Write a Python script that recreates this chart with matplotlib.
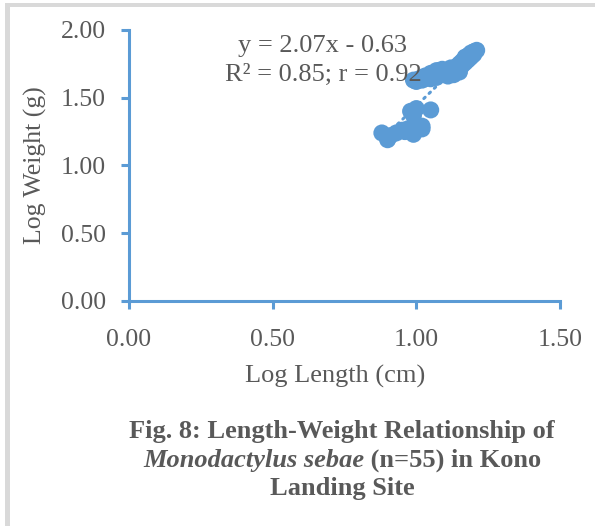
import matplotlib
matplotlib.use("Agg")
import matplotlib.pyplot as plt
from matplotlib.patches import Rectangle
import numpy as np

# data (log length cm, log weight g), n=55
log_length = [0.88, 0.90, 0.91, 0.93, 0.95, 0.96, 0.97, 0.99, 1.00, 1.02,
              1.02, 0.99, 1.00, 0.98, 1.05,
              0.99, 1.00, 1.01, 1.02, 1.03, 1.04, 1.05, 1.06, 1.07, 1.08,
              1.08, 1.09, 1.09, 1.10, 1.10, 1.11, 1.11, 1.12, 1.12, 1.13,
              1.13, 1.14, 1.14, 1.15, 1.15, 1.16, 1.16, 1.17, 1.17, 1.18,
              1.18, 1.19, 1.19, 1.20, 1.20, 1.21, 1.05, 1.07, 1.03, 1.15]
log_weight = [1.24, 1.19, 1.22, 1.24, 1.26, 1.25, 1.27, 1.23, 1.26, 1.29,
              1.27, 1.37, 1.42, 1.40, 1.41,
              1.63, 1.62, 1.64, 1.63, 1.64, 1.65, 1.64, 1.66, 1.65, 1.67,
              1.70, 1.68, 1.71, 1.67, 1.69, 1.70, 1.66, 1.68, 1.72, 1.70,
              1.67, 1.71, 1.73, 1.72, 1.69, 1.74, 1.77, 1.76, 1.80, 1.78,
              1.81, 1.80, 1.83, 1.82, 1.84, 1.85, 1.68, 1.70, 1.66, 1.75]

slope, intercept = 2.07, -0.63
eq_lines = ["y = 2.07x - 0.63", "R² = 0.85; r = 0.92"]
x_ticks = [0.0, 0.5, 1.0, 1.5]
y_ticks = [0.0, 0.5, 1.0, 1.5, 2.0]

blue = "#5B9BD5"
grey = "#595959"
plt.rcParams["font.family"] = ["Liberation Serif", "DejaVu Serif"]

fig = plt.figure(figsize=(5.95, 5.26), dpi=100)
ax = fig.add_axes([0.2168, 0.4278, 0.7244, 0.5152])

ax.scatter(log_length, log_weight, s=150, color=blue, edgecolors="none", zorder=3)

# dotted linear trendline over the data range
xt = np.array([min(log_length), max(log_length)])
ax.plot(xt, slope * xt + intercept, color=blue, lw=2.2,
        linestyle=(0, (0.6, 1.8)), dash_capstyle="round", zorder=4)

ax.set_xlim(0, 1.5)
ax.set_ylim(0, 2.0)
ax.set_xticks(x_ticks)
ax.set_yticks(y_ticks)
ax.set_xticklabels([f"{v:.2f}" for v in x_ticks])
ax.set_yticklabels([f"{v:.2f}" for v in y_ticks])

for s in ["top", "right"]:
    ax.spines[s].set_visible(False)
for s in ["left", "bottom"]:
    ax.spines[s].set_color(blue)
    ax.spines[s].set_linewidth(2.2)
ax.tick_params(axis="both", colors=blue, width=2.2, length=5.5,
               labelcolor=grey, labelsize=18.5)
ax.tick_params(axis="x", pad=15)
ax.tick_params(axis="y", pad=11)

ax.set_xlabel("Log Length (cm)", fontsize=19, color=grey)
ax.set_ylabel("Log Weight (g)", fontsize=18.5, color=grey, labelpad=10)
ax.xaxis.set_label_coords((335 - 129) / (560 - 129), (301 - 365) / 271)

# trendline equation
fig.text(323 / 595, 1 - 46 / 526, eq_lines[0], ha="center", va="center",
         fontsize=19, color=grey)
fig.text(323 / 595, 1 - 75 / 526, eq_lines[1], ha="center", va="center",
         fontsize=19, color=grey)

# caption, second line mixes italic and upright bold
cx = 342 / 595
fs = 19
fig.text(cx, 1 - 438 / 526, "Fig. 8: Length-Weight Relationship of",
         ha="center", va="baseline", fontsize=fs, fontweight="bold", color=grey)
t1 = fig.text(0, 1 - 467 / 526, "Monodactylus sebae", va="baseline",
              fontsize=fs, fontweight="bold", fontstyle="italic", color=grey)
t2 = fig.text(0, 1 - 467 / 526, " (n=55) in Kono", va="baseline",
              fontsize=fs, fontweight="bold", color=grey)
fig.text(cx, 1 - 495 / 526, "Landing Site",
         ha="center", va="baseline", fontsize=fs, fontweight="bold", color=grey)

r = fig.canvas.get_renderer()
w1 = t1.get_window_extent(r).width / fig.bbox.width
w2 = t2.get_window_extent(r).width / fig.bbox.width
x0 = cx - (w1 + w2) / 2
t1.set_x(x0)
t2.set_x(x0 + w1)

# light grey frame lines on left and top
fig.add_artist(Rectangle((5 / 595, 0), 5 / 595, 1 - 3 / 526, transform=fig.transFigure,
                         color="#D9D9D9", lw=0))
fig.add_artist(Rectangle((5 / 595, 1 - 7 / 526), 1, 4 / 526, transform=fig.transFigure,
                         color="#D9D9D9", lw=0))

fig.savefig("out.png", dpi=100)
